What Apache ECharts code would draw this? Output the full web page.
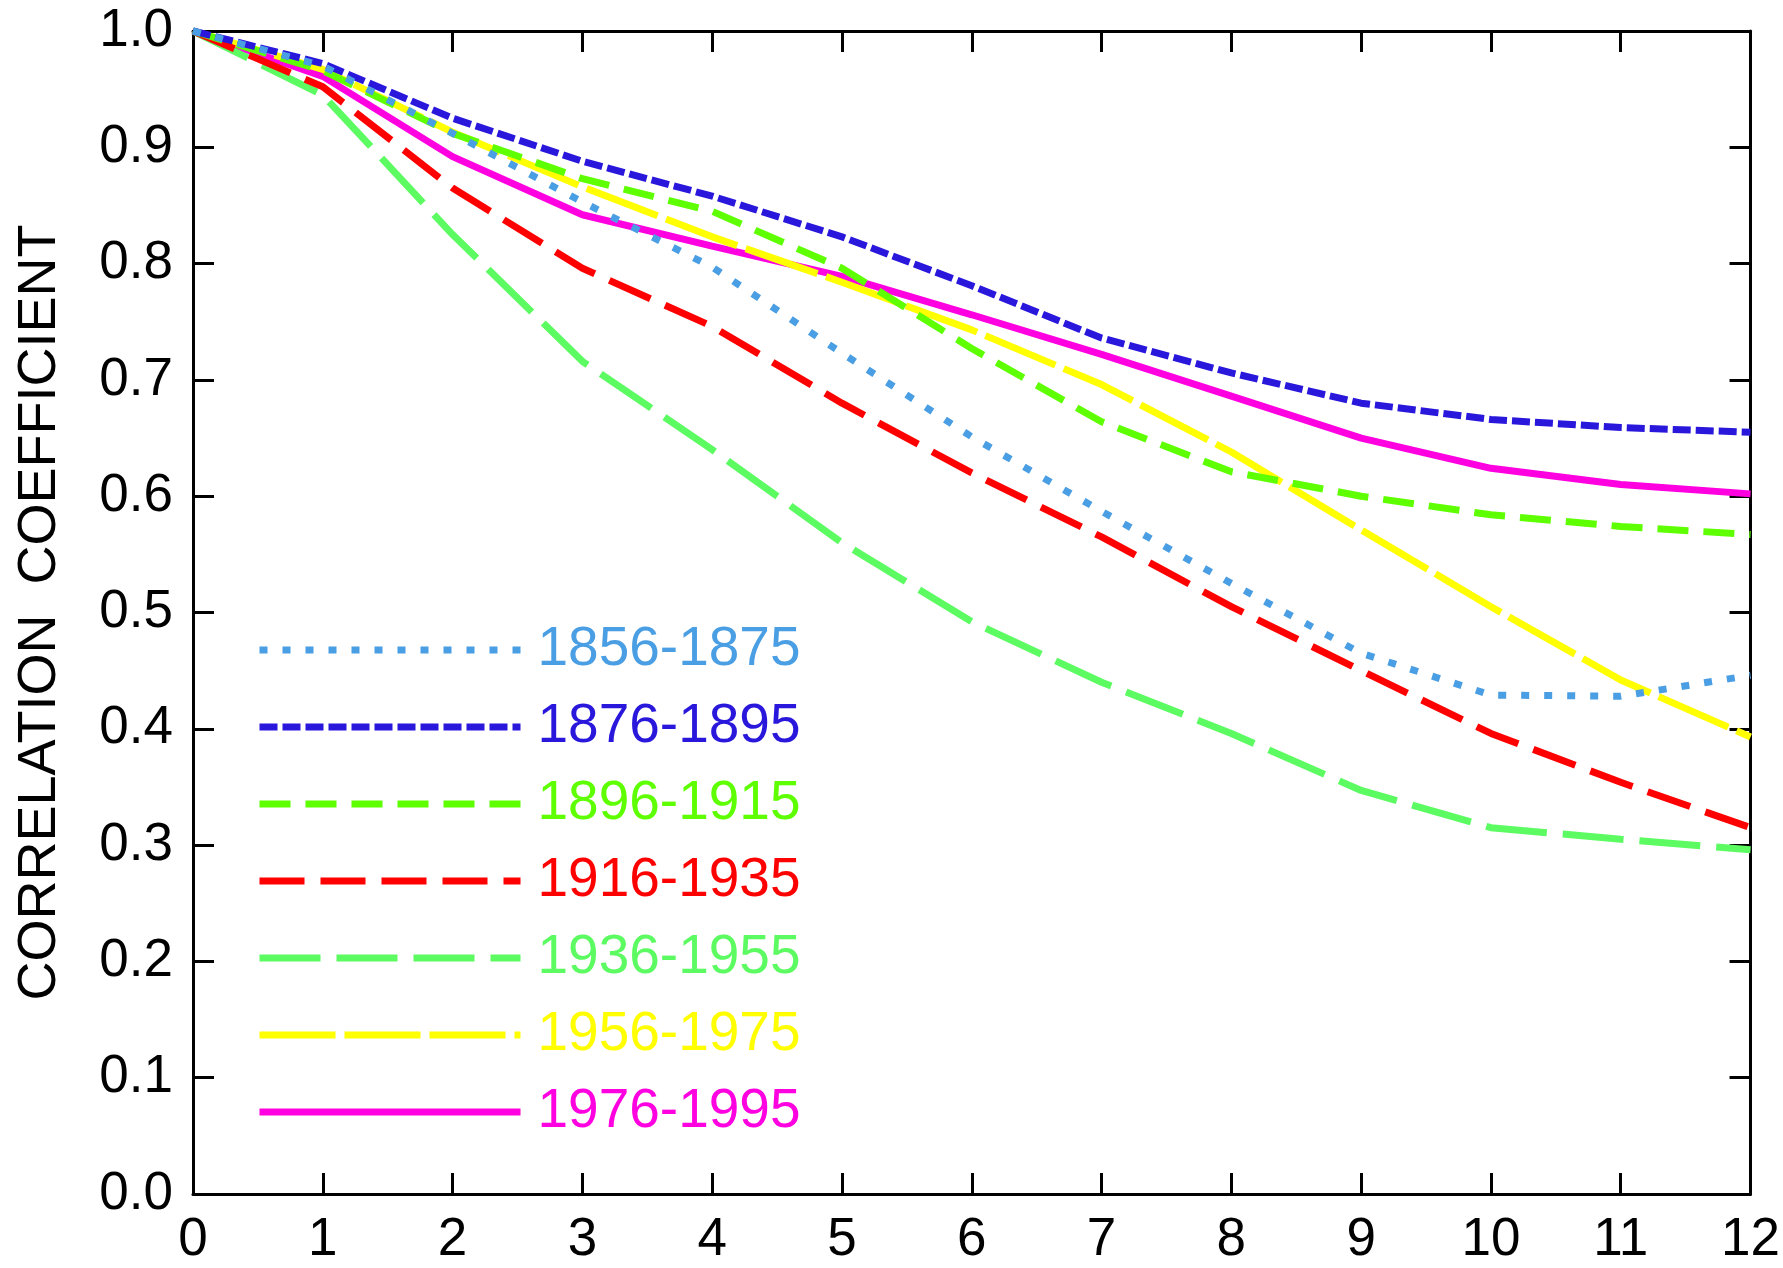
<!DOCTYPE html>
<html>
<head>
<meta charset="utf-8">
<script src="https://cdn.jsdelivr.net/npm/echarts@6/dist/echarts.min.js"></script>
<style>
  html, body { margin: 0; padding: 0; background: #fff; }
  #chart { width: 1783px; height: 1268px; }
</style>
</head>
<body>
<div id="chart"></div>
<script>
  const lags = [0, 1, 2, 3, 4, 5, 6, 7, 8, 9, 10, 11, 12];
  const yTicks = [0, 0.1, 0.2, 0.3, 0.4, 0.5, 0.6, 0.7, 0.8, 0.9, 1.0];

  const names = ['1856-1875', '1876-1895', '1896-1915', '1916-1935', '1936-1955', '1956-1975', '1976-1995'];
  const r1856 = [1.0, 0.970, 0.912, 0.853, 0.797, 0.723, 0.651, 0.587, 0.525, 0.465, 0.429, 0.428, 0.446];
  const r1876 = [1.0, 0.972, 0.925, 0.888, 0.858, 0.823, 0.781, 0.736, 0.706, 0.680, 0.666, 0.659, 0.655];
  const r1896 = [1.0, 0.966, 0.912, 0.873, 0.845, 0.796, 0.727, 0.664, 0.621, 0.600, 0.584, 0.574, 0.567];
  const r1916 = [1.0, 0.952, 0.865, 0.796, 0.746, 0.680, 0.620, 0.565, 0.505, 0.450, 0.396, 0.354, 0.315];
  const r1936 = [1.0, 0.945, 0.825, 0.716, 0.640, 0.560, 0.492, 0.440, 0.396, 0.347, 0.315, 0.305, 0.296];
  const r1956 = [1.0, 0.967, 0.913, 0.866, 0.823, 0.784, 0.743, 0.696, 0.638, 0.571, 0.505, 0.442, 0.393];
  const r1976 = [1.0, 0.961, 0.892, 0.842, 0.815, 0.789, 0.756, 0.722, 0.686, 0.650, 0.624, 0.610, 0.602];

  const values = [r1856, r1876, r1896, r1916, r1936, r1956, r1976];
  const colors = ['#4a9ee3', '#2a17dc', '#5eff00', '#ff0000', '#5cfb62', '#ffff00', '#ff00e0'];
  const dashes = [[8, 15], [18, 5], [31, 15], [45, 16], [61, 16], [76, 9], 'solid'];

  const font = 'Liberation Sans';
  const black = '#000';

  const series = names.map((name, i) => ({
    name,
    type: 'line',
    symbol: 'none',
    clip: false,
    data: lags.map((x, k) => [x, values[i][k]]),
    lineStyle: { color: colors[i], width: 7, type: dashes[i], cap: 'butt' },
    itemStyle: { color: colors[i] },
    z: 10 - i,
  }));

  // frame axis: line + inward ticks, used on all four sides
  function frameAxis(extra) {
    return Object.assign({
      type: 'value',
      axisLine: { onZero: false, lineStyle: { color: black, width: 3 } },
      axisTick: { inside: true, length: 21, lineStyle: { color: black, width: 3 } },
      splitLine: { show: false },
    }, extra);
  }

  const chart = echarts.init(document.getElementById('chart'));
  chart.setOption({
    animation: false,
    backgroundColor: '#fff',
    grid: { left: 193, right: 32, top: 31, bottom: 74 },
    legend: {
      orient: 'vertical',
      left: 251,
      top: 617,
      itemWidth: 261,
      itemHeight: 20,
      itemGap: 21,
      selectedMode: false,
      lineStyle: { width: 7 },
      itemStyle: { opacity: 0 },
      data: names.map((name, i) => ({
        name,
        textStyle: { color: colors[i] },
      })),
      textStyle: {
        fontFamily: font,
        fontSize: 55,
        lineHeight: 56,
        padding: [0, 0, 0, 12],
      },
    },
    xAxis: [
      frameAxis({
        min: 0,
        max: 12,
        interval: 1,
        axisLabel: {
          color: black,
          fontFamily: font,
          fontSize: 53,
          margin: 20,
          formatter: (v) => String(v),
        },
      }),
      frameAxis({
        position: 'top',
        min: 0,
        max: 12,
        interval: 1,
        axisLabel: { show: false },
      }),
    ],
    yAxis: [
      frameAxis({
        min: 0,
        max: 1,
        interval: 0.1,
        name: 'CORRELATION  COEFFICIENT',
        nameLocation: 'middle',
        nameGap: 126,
        nameTextStyle: { color: black, fontFamily: font, fontSize: 54 },
        axisLabel: {
          color: black,
          fontFamily: font,
          fontSize: 53,
          margin: 20,
          formatter: (v) => {
            const t = yTicks.find((y) => Math.abs(y - v) < 1e-6);
            return (t === undefined ? v : t).toFixed(1);
          },
        },
      }),
      frameAxis({
        position: 'right',
        min: 0,
        max: 1,
        interval: 0.1,
        axisLabel: { show: false },
      }),
    ],
    series,
  });

  window.addEventListener('resize', () => chart.resize());
</script>
</body>
</html>
